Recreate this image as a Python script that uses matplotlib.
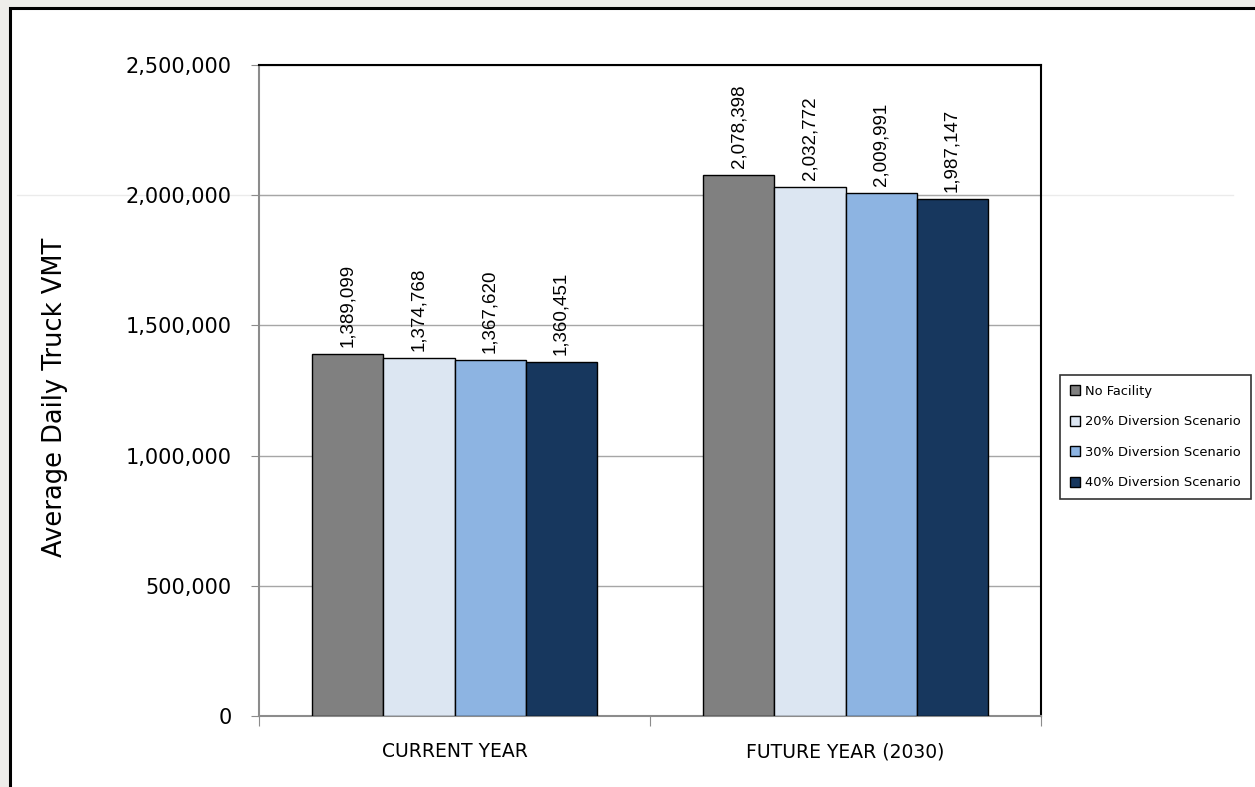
import matplotlib
matplotlib.use('Agg')
import matplotlib.pyplot as plt
from matplotlib.patches import Rectangle
from matplotlib.ticker import FuncFormatter
import numpy as np

categories = ['CURRENT YEAR', 'FUTURE YEAR (2030)']
scenarios = ['No Facility', '20% Diversion Scenario', '30% Diversion Scenario', '40% Diversion Scenario']
vmt = [
    [1389099, 2078398],
    [1374768, 2032772],
    [1367620, 2009991],
    [1360451, 1987147],
]
colors = ['#808080', '#DCE6F2', '#8DB4E2', '#17375E']

fig = plt.figure(figsize=(12.55, 7.87), dpi=100, facecolor='#EEEDEA')
# white slide panel with a black frame
fig.patches.append(Rectangle((10 / 1255, -0.05), 1.1, (787 - 8) / 787 + 0.05,
                             transform=fig.transFigure, facecolor='white',
                             edgecolor='black', linewidth=2.2, zorder=-10))

ax = fig.add_axes([259 / 1255, 71 / 787, 782 / 1255, 651 / 787])
ax.set_zorder(2)
ax.set_facecolor('white')

x = np.arange(len(categories))
w = 0.1816
for i, (name, vals) in enumerate(zip(scenarios, vmt)):
    pos = x + (i - 1.5) * w
    ax.bar(pos, vals, w, color=colors[i], edgecolor='black', linewidth=1.0,
           label=name, zorder=3)
    for px, v in zip(pos, vals):
        ax.annotate(f'{v:,}', (px, v), xytext=(0, 5), textcoords='offset points',
                    rotation=90, ha='center', va='bottom', fontsize=13.5,
                    family='Liberation Sans', zorder=4)

ax.set_xlim(-0.5, 1.5)
ax.set_ylim(0, 2500000)
ax.set_yticks(np.arange(0, 2500001, 500000))
ax.yaxis.set_major_formatter(FuncFormatter(lambda v, p: f'{int(v):,}'))
ax.set_xticks([-0.5, 0.5, 1.5], minor=False)
ax.set_xticklabels([])
ax.set_xticks(x, minor=True)
ax.set_xticklabels(categories, minor=True, fontsize=13.5)
ax.tick_params(axis='x', which='minor', length=0, pad=19)
ax.tick_params(axis='x', which='major', length=7, color='#8C8C8C', direction='out')
ax.tick_params(axis='y', length=6, color='#8C8C8C', labelsize=15, pad=13.5)

ax.grid(axis='y', color='#A6A6A6', linewidth=1.0, zorder=0)
ax.set_axisbelow(True)
# faint guide line at 2,000,000 running across the panel
ax.axhline(2000000, xmin=-0.31, xmax=1.245, color='#EBEBEB', linewidth=1.0,
           clip_on=False, zorder=-1)
for s in ['left', 'bottom']:
    ax.spines[s].set_color('#8C8C8C')
    ax.spines[s].set_linewidth(1.5)
for s in ['top', 'right']:
    ax.spines[s].set_color('black')
    ax.spines[s].set_linewidth(1.5)

ax.set_ylabel('Average Daily Truck VMT', fontsize=18.5, va='center')
ax.yaxis.set_label_coords((55 - 259) / 782, 0.49)

leg = fig.legend(loc='upper left', bbox_to_anchor=(1060 / 1255, 1 - 375 / 787),
                 borderaxespad=0, frameon=True, fancybox=False, fontsize=9.4,
                 handlelength=0.8, handleheight=0.8, handletextpad=0.4,
                 labelspacing=1.34, borderpad=0.75)
leg.set_zorder(3)
leg.get_frame().set_edgecolor('black')
leg.get_frame().set_linewidth(1.2)

fig.savefig('out.png', dpi=100, facecolor=fig.get_facecolor())
